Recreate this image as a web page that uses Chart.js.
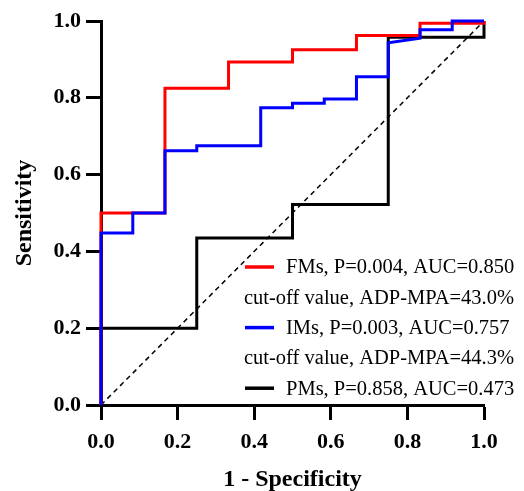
<!DOCTYPE html>
<html>
<head>
<meta charset="utf-8">
<script src="https://cdn.jsdelivr.net/npm/chart.js@4/dist/chart.umd.min.js"></script>
<style>
  html, body { margin: 0; padding: 0; background: #fff; }
  #wrap { width: 524px; height: 491px; }
</style>
</head>
<body>
<div id="wrap"><canvas id="roc" width="524" height="491"></canvas></div>
<script>
  // ROC curve vertices (1 - specificity, sensitivity)
  const tickValues = [0, 0.2, 0.4, 0.6, 0.8, 1.0];

  const fmsX = [0, 0, 0.167, 0.167, 0.333, 0.333, 0.5, 0.5, 0.667, 0.667, 0.833, 0.833, 1.0, 1.0];
  const fmsY = [0, 0.5, 0.5, 0.825, 0.825, 0.893, 0.893, 0.925, 0.925, 0.962, 0.962, 0.994, 0.994, 1.0];

  const imsX = [0, 0, 0.083, 0.083, 0.167, 0.167, 0.25, 0.25, 0.417, 0.417, 0.5, 0.5, 0.583, 0.583, 0.667, 0.667, 0.75, 0.75, 0.833, 0.833, 0.917, 0.917, 1.0];
  const imsY = [0, 0.448, 0.448, 0.5, 0.5, 0.662, 0.662, 0.675, 0.675, 0.774, 0.774, 0.786, 0.786, 0.797, 0.797, 0.855, 0.855, 0.943, 0.955, 0.977, 0.977, 1.0, 1.0];

  const pmsX = [0, 0, 0.25, 0.25, 0.5, 0.5, 0.75, 0.75, 1.0, 1.0];
  const pmsY = [0, 0.2, 0.2, 0.435, 0.435, 0.522, 0.522, 0.958, 0.958, 1.0];

  const refX = [0, 1];
  const refY = [0, 1];

  const legendLabels = ['FMs, P=0.004, AUC=0.850', 'IMs, P=0.003, AUC=0.757', 'PMs, P=0.858, AUC=0.473'];
  const cutoffLabels = ['cut-off value, ADP-MPA=43.0%', 'cut-off value, ADP-MPA=44.3%', null];
  const legendColors = ['#ff0000', '#0000ff', '#000000'];

  const SERIF = '"Liberation Serif", "Times New Roman", serif';

  function toPoints(xs, ys) {
    return xs.map((x, i) => ({ x: x, y: ys[i] }));
  }

  function curve(label, xs, ys, color) {
    return {
      label: label,
      data: toPoints(xs, ys),
      showLine: true,
      borderColor: color,
      backgroundColor: color,
      borderWidth: 3,
      pointRadius: 0,
      tension: 0,
      clip: 6
    };
  }

  // legend drawn inside the plot, with the extra cut-off lines
  const rocLegend = {
    id: 'rocLegend',
    afterDatasetsDraw(chart) {
      const ctx = chart.ctx;
      ctx.save();
      ctx.font = '20.5px ' + SERIF;
      ctx.textBaseline = 'middle';
      ctx.fillStyle = '#000';
      let y = 267;
      legendLabels.forEach((text, i) => {
        ctx.strokeStyle = legendColors[i];
        ctx.lineWidth = 3.5;
        ctx.beginPath();
        ctx.moveTo(245, y);
        ctx.lineTo(274, y);
        ctx.stroke();
        ctx.fillText(text, 286, y + 1);
        y += 30.3;
        if (cutoffLabels[i]) {
          ctx.fillText(cutoffLabels[i], 244, y + 1);
          y += 30.3;
        }
      });
      ctx.restore();
    }
  };

  const axisCommon = {
    type: 'linear',
    min: 0,
    max: 1,
    afterBuildTicks: (s) => { s.ticks = tickValues.map(v => ({ value: v })); },
    border: { display: true, color: '#000', width: 3 },
    grid: { drawOnChartArea: false, drawTicks: true, tickLength: 15, tickWidth: 3, tickColor: '#000' },
    ticks: {
      color: '#000',
      font: { family: SERIF, size: 22, weight: 'bold' },
      callback: (v) => Number(v).toFixed(1)
    }
  };

  new Chart(document.getElementById('roc').getContext('2d'), {
    type: 'scatter',
    data: {
      datasets: [
        curve('IMs', imsX, imsY, '#0000ff'),
        curve('FMs', fmsX, fmsY, '#ff0000'),
        curve('PMs', pmsX, pmsY, '#000000'),
        {
          label: 'Reference',
          data: toPoints(refX, refY),
          showLine: true,
          borderColor: '#000',
          borderWidth: 1.5,
          borderDash: [5, 4],
          pointRadius: 0
        }
      ]
    },
    options: {
      responsive: false,
      animation: false,
      devicePixelRatio: 1,
      layout: { padding: { top: 21, right: 40, left: 0, bottom: 0 } },
      plugins: {
        legend: { display: false },
        tooltip: { enabled: false }
      },
      scales: {
        x: Object.assign({}, axisCommon, {
          position: 'bottom',
          ticks: Object.assign({}, axisCommon.ticks, { padding: 9 }),
          title: {
            display: true,
            text: '1 - Specificity',
            color: '#000',
            font: { family: SERIF, size: 24, weight: 'bold', lineHeight: 1 },
            padding: { top: 0, bottom: -1 }
          },
          afterFit: (s) => { s.height = 86; }
        }),
        y: Object.assign({}, axisCommon, {
          position: 'left',
          ticks: Object.assign({}, axisCommon.ticks, { padding: 5 }),
          title: {
            display: true,
            text: 'Sensitivity',
            color: '#000',
            font: { family: SERIF, size: 24, weight: 'bold', lineHeight: 1 },
            padding: { top: 13, bottom: 0 }
          },
          afterFit: (s) => { s.width = 101; }
        })
      }
    },
    plugins: [rocLegend]
  });
</script>
</body>
</html>
